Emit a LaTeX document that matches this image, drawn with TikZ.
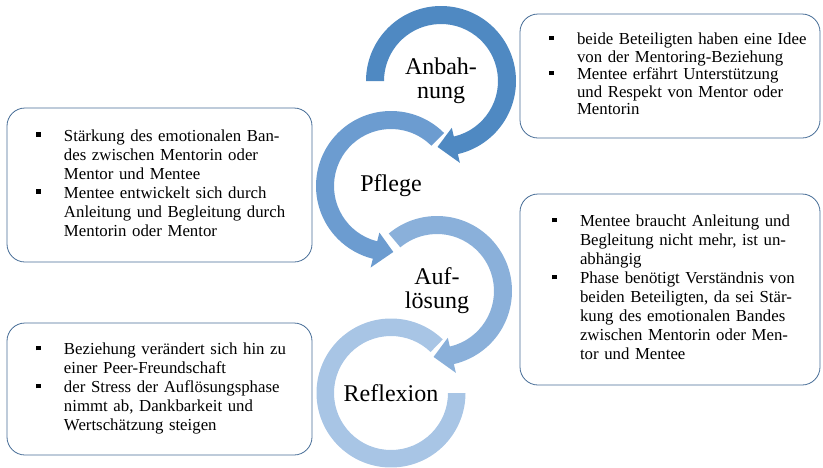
\documentclass[tikz,border=0pt]{standalone}
\usepackage{fontspec}
\setmainfont{Liberation Serif}
\usepackage{tikz}
\usetikzlibrary{positioning}
\definecolor{ringA}{RGB}{79,137,194}
\definecolor{ringP}{RGB}{108,156,208}
\definecolor{ringAu}{RGB}{138,176,218}
\definecolor{ringR}{RGB}{168,197,229}
\definecolor{boxline}{RGB}{70,108,150}
\newcommand{\sqbul}{\rule[4.5pt]{4.5pt}{4.5pt}}
\tikzstyle{phase} = [align=center, inner sep=0, font=\fontsize{24}{24}\selectfont]
\tikzstyle{infobox} = [rectangle, rounded corners=18pt, draw=boxline, line width=0.8pt, inner xsep=29pt, inner ysep=0, align=left, font=\fontsize{16.8}{19}\selectfont]

\begin{document}
\begin{tikzpicture}[x=1pt, y=1pt, node distance=105pt]
\useasboundingbox (0,0) rectangle (823,-467);

\node (anb) [phase] at (441,-81) {Anbah-\\nung};
\node (pfl) [phase, below of=anb, xshift=-50pt] {Pflege};
\node (auf) [phase, below of=pfl, xshift=46pt] {Auf-\\lösung};
\node (ref) [phase, below of=auf, xshift=-46pt, yshift=3pt] {Reflexion};

% rings with arrow heads
\begin{scope}[shift={(anb.center)}]
\fill [ringA] (180:75) arc[start angle=180, end angle=-77, radius=75] -- (-77:84) -- (-93:66) -- (-77:48) -- (-77:57) arc[start angle=-77, end angle=180, radius=57] -- cycle;
\end{scope}
\begin{scope}[shift={(pfl.center)}]
\fill [ringP] (45:75) arc[start angle=45, end angle=256, radius=75] -- (256:84) -- (272:66) -- (256:48) -- (256:57) arc[start angle=256, end angle=45, radius=57] -- cycle;
\end{scope}
\begin{scope}[shift={(auf.center)}]
\fill [ringAu] (130:75) arc[start angle=130, end angle=-77, radius=75] -- (-77:84) -- (-93:66) -- (-77:48) -- (-77:57) arc[start angle=-77, end angle=130, radius=57] -- cycle;
\end{scope}
\begin{scope}[shift={(ref.center)}]
\fill [ringR] (46:74.5) arc[start angle=46, end angle=360, radius=74.5] -- (0:57) arc[start angle=360, end angle=46, radius=57] -- cycle;
\end{scope}

\node (anbtxt) [infobox, text width=242pt, minimum height=124pt, font=\fontsize{16.8}{17.5}\selectfont] at (670,-76) {%
\begin{tabular}{@{}p{28pt}@{}l@{}}
\sqbul & beide Beteiligten haben eine Idee\\
 & von der Mentoring-Beziehung\\
\sqbul & Mentee erfährt Unterstützung\\
 & und Respekt von Mentor oder\\
 & Mentorin
\end{tabular}};

\node (pfltxt) [infobox, text width=247pt, minimum height=154pt] at (159.5,-185) {%
\begin{tabular}{@{}p{28pt}@{}l@{}}
\sqbul & Stärkung des emotionalen Ban-\\
 & des zwischen Mentorin oder\\
 & Mentor und Mentee\\
\sqbul & Mentee entwickelt sich durch\\
 & Anleitung und Begleitung durch\\
 & Mentorin oder Mentor
\end{tabular}};

\node (auftxt) [infobox, inner xsep=32pt, text width=236pt, minimum height=191pt] at (670,-289.5) {%
\begin{tabular}{@{}p{28pt}@{}l@{}}
\sqbul & Mentee braucht Anleitung und\\
 & Begleitung nicht mehr, ist un-\\
 & abhängig\\
\sqbul & Phase benötigt Verständnis von\\
 & beiden Beteiligten, da sei Stär-\\
 & kung des emotionalen Bandes\\
 & zwischen Mentorin oder Men-\\
 & tor und Mentee
\end{tabular}};

\node (reftxt) [infobox, text width=247pt, minimum height=132pt] at (159.5,-389) {%
\begin{tabular}{@{}p{28pt}@{}l@{}}
\sqbul & Beziehung verändert sich hin zu\\
 & einer Peer-Freundschaft\\
\sqbul & der Stress der Auflösungsphase\\
 & nimmt ab, Dankbarkeit und\\
 & Wertschätzung steigen
\end{tabular}};

\end{tikzpicture}
\end{document}
